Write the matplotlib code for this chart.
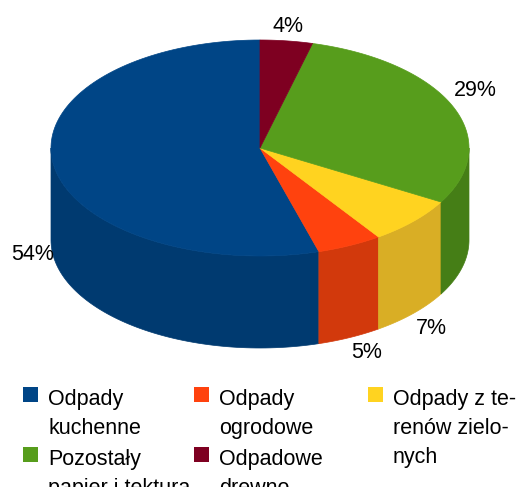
import numpy as np
import matplotlib
matplotlib.use("Agg")
import matplotlib.pyplot as plt
from matplotlib.patches import Rectangle

plt.rcParams['font.family'] = ['Liberation Sans', 'DejaVu Sans']

# donnees
categories = ["Odpady\nkuchenne", "Odpady\nogrodowe", "Odpady z te-\nrenów zielo-\nnych",
              "Pozostały\npapier i tektura", "Odpadowe\ndrewno"]
valeurs = [54, 5, 7, 29, 4]
couleurs = ["#004586", "#ff420e", "#ffd320", "#579d1c", "#7e0021"]
couleurs_cote = ["#003a70", "#d2390c", "#d9ae25", "#457e16", "#650019"]

# geometrie du camembert (pixels)
cx, cy = 260, 148
rx, ry = 209, 108
prof = 92

etiquettes_pos = [(33, 255), (367, 352), (431, 328), (475, 91), (288, 27)]
legende_pos = [(23, 387), (194, 387), (368, 387), (23, 447), (194, 447)]

fig = plt.figure(figsize=(5.17, 4.87), dpi=100)
ax = fig.add_axes([0, 0, 1, 1])
ax.set_xlim(0, 517)
ax.set_ylim(487, 0)
ax.axis("off")


def point(a, dy=0):
    # angle en radians depuis le haut, sens anti-horaire
    return cx - rx * np.sin(a), cy - ry * np.cos(a) + dy


bornes = np.cumsum([0] + valeurs) / sum(valeurs) * 2 * np.pi

# cotes d'abord : seule la moitie avant est visible
for i in range(len(valeurs)):
    a0 = max(bornes[i], np.pi / 2)
    a1 = min(bornes[i + 1], 3 * np.pi / 2)
    if a1 <= a0:
        continue
    a = np.linspace(a0, a1, 80)
    x, y = point(a)
    xb, yb = point(a[::-1], prof)
    ax.fill(np.r_[x, xb], np.r_[y, yb], color=couleurs_cote[i], lw=0.5)

# dessus
for i in range(len(valeurs)):
    a = np.linspace(bornes[i], bornes[i + 1], 120)
    x, y = point(a)
    ax.fill(np.r_[cx, x], np.r_[cy, y], color=couleurs[i], lw=0.5)

for v, (x, y) in zip(valeurs, etiquettes_pos):
    ax.text(x, y, f"{v}%", fontsize=15.5, ha="center", va="center", color="black")

# legende : une ligne a la fois, la derniere rangee depasse du bas de l'image
for nom, c, (x, y) in zip(categories, couleurs, legende_pos):
    ax.add_patch(Rectangle((x, y), 15, 15, facecolor=c, edgecolor="none"))
    for k, ligne in enumerate(nom.split("\n")):
        ax.text(x + 25, y + 18 + 29 * k, ligne, fontsize=15.5, ha="left", va="baseline",
                color="black")

fig.savefig("out.png", dpi=100)
